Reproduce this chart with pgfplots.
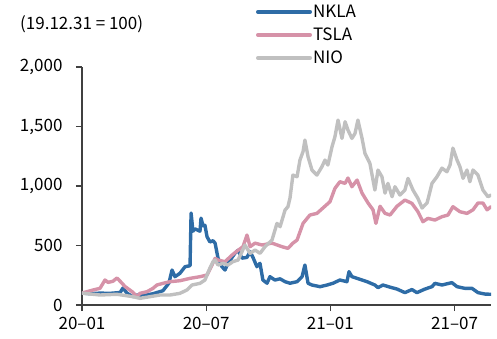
\documentclass[border=0pt]{standalone}
\usepackage{fontspec}
\setmainfont{Noto Sans CJK KR}
\usepackage{pgfplots}
\pgfplotsset{compat=1.18}
\definecolor{nkla}{RGB}{46,108,166}
\definecolor{tsla}{RGB}{214,146,168}
\definecolor{nio}{RGB}{192,192,192}
\definecolor{axgray}{RGB}{64,64,64}
\tikzset{ser/.style={line width=3.4pt, line join=round, line cap=round}}

\begin{document}
\begin{tikzpicture}
\useasboundingbox (-82pt,-33pt) rectangle (415pt,305pt);
\begin{axis}[
    at={(0,0)}, anchor=south west,
    scale only axis, width=409pt, height=238pt,
    xmin=0, xmax=19.76, ymin=0, ymax=2000,
    axis lines=left,
    axis line style={draw=axgray, line width=1.4pt, -},
    tick style={draw=axgray, line width=1.2pt},
    tick align=outside, major tick length=6pt,
    xtick={0,6,12,18},
    xticklabels={20–01,20–07,21–01,21–07},
    ytick={0,500,1000,1500,2000},
    /pgf/number format/assume math mode=true,
    /pgf/number format/1000 sep={,},
    tick label style={font=\fontsize{17}{20}\selectfont, text=black},
    yticklabel style={xshift=-10pt},
    xticklabel style={yshift=-3pt},
    legend style={at={(0.425,1.262)}, anchor=north west, draw=none, fill=none,
      inner sep=0pt, row sep=9pt,
      nodes={inner sep=1pt, text height=12pt, text depth=0pt,
        font=\fontsize{17}{20}\selectfont}},
    legend cell align=left,
    legend image code/.code={\draw[#1, line width=4pt, line cap=round] (0pt,0pt) -- (52pt,0pt);},
]
\addplot[nkla, ser] coordinates {
(0,100) (0.39,95) (0.87,100) (1.35,98) (1.84,105) (1.98,143) (2.17,100) (2.46,70)
(2.66,84) (2.95,78) (3.43,95) (3.91,120) (4.20,185) (4.35,294) (4.49,238) (4.73,266)
(4.98,322) (5.22,330) (5.27,773) (5.36,620) (5.46,640) (5.70,620) (5.75,730) (5.85,665)
(5.94,670) (6.04,574) (6.18,530) (6.33,540) (6.43,520) (6.57,395) (6.76,322) (6.91,294)
(7.05,350) (7.39,435) (7.54,460) (7.73,394) (7.97,400) (8.12,448) (8.26,400) (8.45,322)
(8.60,350) (8.74,210) (8.94,183) (9.08,238) (9.32,210) (9.57,220) (9.81,196) (10.05,183)
(10.39,196) (10.63,238) (10.77,336) (10.92,183) (11.11,168) (11.50,154) (11.84,168)
(12.13,183) (12.46,210) (12.80,196) (12.90,280) (13.04,238) (13.29,224) (13.77,196)
(14.15,168) (14.30,146) (14.54,168) (14.88,150) (15.22,134) (15.60,104) (15.94,130)
(16.18,104) (16.57,134) (16.91,154) (17.05,182) (17.39,168) (17.87,188) (18.12,154)
(18.50,140) (18.84,140) (19.13,104) (19.47,92) (19.76,90)
};
\addlegendentry{NKLA}
\addplot[tsla, ser] coordinates {
(0,100) (0.24,112) (0.53,126) (0.87,140) (1.11,210) (1.26,190) (1.50,200) (1.69,227)
(1.84,200) (2.08,155) (2.42,112) (2.66,70) (2.80,98) (3.14,112) (3.43,140) (3.62,168)
(3.91,182) (4.25,196) (4.73,204) (5.22,224) (5.70,238) (6.04,252) (6.28,336) (6.43,392)
(6.57,378) (6.91,364) (7.25,420) (7.54,460) (7.78,490) (7.97,588) (8.12,490) (8.36,520)
(8.70,504) (9.18,520) (9.66,490) (9.95,476) (10.19,520) (10.39,546) (10.68,686)
(11.01,756) (11.35,770) (11.64,815) (11.98,868) (12.22,980) (12.46,1036) (12.71,1022)
(12.85,1067) (13.04,994) (13.29,1050) (13.53,940) (13.82,857) (14.06,800) (14.20,686)
(14.40,830) (14.64,770) (14.88,756) (15.22,830) (15.60,882) (15.94,854) (16.23,784)
(16.47,700) (16.71,728) (17.05,714) (17.39,742) (17.68,756) (17.92,826) (18.26,784)
(18.60,770) (18.89,800) (19.13,857) (19.37,857) (19.57,800) (19.76,826)
};
\addlegendentry{TSLA}
\addplot[nio, ser] coordinates {
(0,100) (0.87,84) (1.69,90) (2.46,70) (2.80,56) (3.29,70) (3.77,84) (4.25,84) (4.73,98)
(5.07,126) (5.31,168) (5.70,182) (5.94,210) (6.18,310) (6.33,364) (6.43,378) (6.57,336)
(6.81,350) (7.05,336) (7.29,364) (7.54,378) (7.73,448) (7.87,504) (8.12,434) (8.36,462)
(8.60,434) (8.84,490) (9.18,546) (9.42,686) (9.57,658) (9.81,798) (9.95,826) (10.05,900)
(10.19,1092) (10.39,1078) (10.53,1218) (10.68,1290) (10.77,1386) (10.92,1246)
(11.11,1134) (11.35,1092) (11.59,1162) (11.74,1218) (11.88,1176) (12.08,1330)
(12.22,1414) (12.37,1554) (12.56,1400) (12.71,1540) (12.85,1470) (13.04,1400)
(13.19,1442) (13.33,1554) (13.53,1400) (13.67,1274) (13.91,1190) (14.15,966)
(14.30,1134) (14.49,1078) (14.64,940) (14.78,1022) (14.98,910) (15.12,994) (15.36,924)
(15.60,966) (15.75,1064) (15.99,966) (16.23,896) (16.43,815) (16.67,857) (16.91,1022)
(17.15,1078) (17.39,1150) (17.63,1120) (17.78,1176) (17.92,1318) (18.12,1218)
(18.26,1162) (18.41,1064) (18.60,1134) (18.74,1036) (18.89,1134) (19.13,1092)
(19.37,966) (19.61,910) (19.76,924)
};
\addlegendentry{NIO}
\end{axis}
\node[anchor=west, inner sep=0pt, font=\fontsize{17}{20}\selectfont] at (-62pt,281pt) {(19.12.31 = 100)};
\end{tikzpicture}
\end{document}
